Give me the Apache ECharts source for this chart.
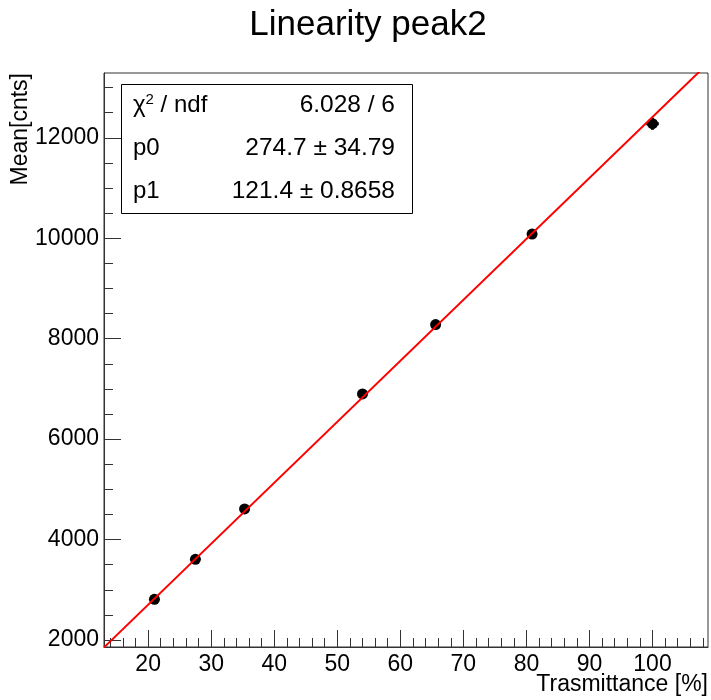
<!DOCTYPE html>
<html>
<head>
<meta charset="utf-8">
<script src="https://cdn.jsdelivr.net/npm/echarts@6/dist/echarts.min.js"></script>
<style>html,body{margin:0;padding:0;background:#fff;}#chart{width:711px;height:700px;}</style>
</head>
<body>
<div id="chart"></div>
<script>
// ---- data ----
const xValues = [21.0, 27.5, 35.3, 54.0, 65.6, 80.9, 100.0];
const yValues = [2810, 3607, 4610, 6900, 8280, 10083, 12280];
const xErrors = [0, 0, 0, 0, 0, 0, 1.0];
const yErrors = [0, 0, 0, 0, 0, 0, 120];
const fitP0 = 274.7;
const fitP1 = 121.4;
const xTickLabels = [20, 30, 40, 50, 60, 70, 80, 90, 100];
const yTickLabels = [2000, 4000, 6000, 8000, 10000, 12000];
const xMinorTicks = [14, 16, 18, 22, 24, 26, 28, 32, 34, 36, 38, 42, 44, 46, 48, 52, 54, 56, 58, 62, 64, 66, 68, 72, 74, 76, 78, 82, 84, 86, 88, 92, 94, 96, 98, 102, 104, 106, 108];
const yMinorTicks = [2500, 3000, 3500, 4500, 5000, 5500, 6500, 7000, 7500, 8500, 9000, 9500, 10500, 11000, 11500, 12500, 13000];
const statsLabels = ['χ{sup|2} / ndf', 'p0', 'p1'];
const statsValues = ['6.028 / 6', '274.7 ± 34.79', '121.4 ± 0.8658'];
const titleText = 'Linearity peak2';
const xTitle = 'Trasmittance [%]';
const yTitle = 'Mean[cnts]';

const X_MIN = 13.0, X_MAX = 108.8, Y_MIN = 1860, Y_MAX = 13290;
const FONT = "'Liberation Sans', Arial, Helvetica, sans-serif";
const AXC = '#333';

const points = xValues.map((x, i) => [x, yValues[i], xErrors[i], yErrors[i]]);
const fitLine = [[X_MIN, fitP0 + fitP1 * X_MIN], [X_MAX, fitP0 + fitP1 * X_MAX]];

const chart = echarts.init(document.getElementById('chart'), null, {renderer: 'canvas'});

const statGraphics = [{
  type: 'rect', left: 121, top: 84, z: 100,
  shape: {width: 291, height: 129},
  style: {fill: '#fff', stroke: '#000', lineWidth: 1}
}];
const rowCenters = [105, 148.4, 191.3];
statsLabels.forEach((t, i) => {
  statGraphics.push({
    type: 'text', x: 133, y: rowCenters[i], z: 101,
    style: {text: t, font: '24px ' + FONT, fill: '#000', align: 'left', verticalAlign: 'middle',
      rich: {sup: {fontSize: 15, fontFamily: FONT, verticalAlign: 'top', padding: [0, 0, 11, 0]}}}
  });
  statGraphics.push({
    type: 'text', x: 395, y: rowCenters[i], z: 101,
    style: {text: statsValues[i], font: '24.5px ' + FONT, fill: '#000', align: 'right', verticalAlign: 'middle'}
  });
});
statGraphics.push({
  type: 'text', x: 21, y: 73, rotation: Math.PI / 2, z: 50,
  style: {text: yTitle, font: '23px ' + FONT, fill: '#000', align: 'right', verticalAlign: 'middle'}
});
statGraphics.push({
  type: 'text', x: 708, y: 673, z: 50,
  style: {text: xTitle, font: '23px ' + FONT, fill: '#000', align: 'right', verticalAlign: 'top'}
});

const plain = v => String(v);

const option = {
  backgroundColor: '#fff',
  animation: false,
  title: {
    text: titleText, left: 363, top: 3, textAlign: 'center',
    textStyle: {fontSize: 35, fontWeight: 'normal', fontFamily: FONT, color: '#000'}
  },
  grid: {left: 104, right: 3, top: 73, bottom: 53, show: true, borderColor: AXC, borderWidth: 1,
    backgroundColor: 'transparent', containLabel: false, outerBoundsMode: 'none'},
  xAxis: [{
    type: 'value', min: X_MIN, max: X_MAX, position: 'bottom',
    axisLine: {show: true, onZero: false, lineStyle: {color: AXC, width: 1}},
    axisTick: {show: true, inside: true, length: 17, customValues: xTickLabels, lineStyle: {color: AXC, width: 1}},
    axisLabel: {customValues: xTickLabels, formatter: plain, margin: 6, fontSize: 23, fontFamily: FONT, color: '#000'},
    splitLine: {show: false}
  }, {
    type: 'value', min: X_MIN, max: X_MAX, position: 'bottom',
    axisLine: {show: false},
    axisTick: {show: true, inside: true, length: 9, customValues: xMinorTicks, lineStyle: {color: AXC, width: 1}},
    axisLabel: {show: false}, splitLine: {show: false}
  }],
  yAxis: [{
    type: 'value', min: Y_MIN, max: Y_MAX, position: 'left',
    axisLine: {show: true, onZero: false, lineStyle: {color: AXC, width: 1}},
    axisTick: {show: true, inside: true, length: 17, customValues: yTickLabels, lineStyle: {color: AXC, width: 1}},
    axisLabel: {customValues: yTickLabels, formatter: plain, margin: 5, fontSize: 23, fontFamily: FONT, color: '#000'},
    splitLine: {show: false}
  }, {
    type: 'value', min: Y_MIN, max: Y_MAX, position: 'left',
    axisLine: {show: false},
    axisTick: {show: true, inside: true, length: 9, customValues: yMinorTicks, lineStyle: {color: AXC, width: 1}},
    axisLabel: {show: false}, splitLine: {show: false}
  }],
  graphic: statGraphics,
  series: [{
    type: 'custom', xAxisIndex: 0, yAxisIndex: 0, z: 3,
    data: points,
    renderItem: function (params, api) {
      const x = api.value(0), y = api.value(1), ex = api.value(2), ey = api.value(3);
      const a = api.coord([x - ex, y]), b = api.coord([x + ex, y]);
      const c = api.coord([x, y - ey]), d = api.coord([x, y + ey]);
      return {type: 'group', children: [
        {type: 'line', shape: {x1: a[0], y1: a[1], x2: b[0], y2: b[1]}, style: {stroke: '#000', lineWidth: 3}},
        {type: 'line', shape: {x1: c[0], y1: c[1], x2: d[0], y2: d[1]}, style: {stroke: '#000', lineWidth: 3}}
      ]};
    }
  }, {
    type: 'scatter', xAxisIndex: 0, yAxisIndex: 0, z: 4,
    data: points.map(p => [p[0], p[1]]),
    symbol: 'circle', symbolSize: 11,
    itemStyle: {color: '#000', opacity: 1}
  }, {
    type: 'line', xAxisIndex: 0, yAxisIndex: 0, z: 5,
    data: fitLine, showSymbol: false, symbol: 'none', clip: true,
    lineStyle: {color: '#ff0000', width: 2}
  }]
};
chart.setOption(option);
</script>
</body>
</html>
